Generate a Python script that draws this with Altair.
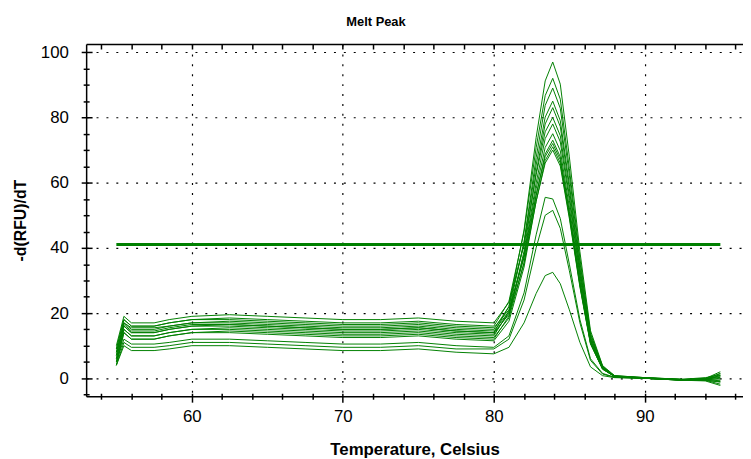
import altair as alt
import pandas as pd

# Temperature grid (°C) shared by all melt curves
temps = [55.0, 55.5, 56.0, 57.5, 58.5, 60.0, 62.5, 65.0, 67.5, 70.0, 72.5, 75.0, 77.5, 80.0,
         81.0, 82.0, 82.8, 83.4, 83.9, 84.4, 85.0, 85.7, 86.4, 87.2, 88.0, 90.0, 92.5, 94.0, 95.0]

# -d(RFU)/dT values, one list per well
c01 = [8, 16, 14, 14, 15, 16, 16.5, 16, 15.5, 15, 15, 15.5, 14.5, 14, 22, 45.5, 73.8, 91.2, 97, 90.2, 67.9, 38.8, 14.6, 3.9, 0.8, 0.2, -0.4, -0.2, 0.8]
c02 = [9, 18, 16, 16, 17, 18, 18.5, 18, 17.5, 17, 17, 17.5, 16.5, 16, 23.6, 44.9, 70.7, 86.7, 92, 85.6, 64.4, 36.8, 13.8, 3.7, 0.6, 0.1, -0.5, -0.4, 1.5]
c03 = [6, 15, 13, 13, 14, 15, 15.5, 15, 14.5, 14, 14, 14.5, 13.5, 13, 20.6, 41.9, 67.7, 83.7, 89, 82.8, 62.3, 35.6, 13.4, 3.6, 0.7, 0.0, -0.6, -0.5, -1.2]
c04 = [7, 17, 15, 15, 16, 17, 17.5, 17, 16.5, 16, 16, 16.5, 15.5, 15, 22, 41.6, 65.4, 80.1, 85, 79, 59.5, 34, 12.8, 3.4, 0.5, 0.1, -0.4, -0.1, 2.0]
c05 = [5, 14, 12, 12, 13, 14, 14.5, 14, 13.5, 13, 13, 13.5, 12.5, 12, 19.1, 39, 63.1, 78, 83, 77.2, 58.1, 33.2, 12.5, 3.3, 0.6, 0.0, -0.6, -0.6, -1.8]
c06 = [10, 19, 17, 17, 18, 19, 19.5, 19, 18.5, 18, 18, 18.5, 17.5, 17, 23.3, 40.9, 62.4, 75.6, 80, 74.4, 56, 32, 12, 3.2, 0.8, 0.2, -0.3, 0.2, 1.0]
c07 = [6, 16, 14, 14, 15, 16, 16, 15.5, 15, 14.5, 14.5, 15, 14, 13.5, 20, 38, 59.9, 73.5, 78, 72.5, 54.6, 31.2, 11.7, 3.1, 0.5, 0.0, -0.5, -0.3, 0.3]
c08 = [8, 17, 15.5, 15.5, 16, 17, 17, 16.5, 16, 15.5, 15.5, 16, 15, 14.5, 20.5, 37.5, 58.1, 70.8, 75, 69.8, 52.5, 30, 11.3, 3.0, 0.6, 0.1, -0.4, -0.4, -0.5]
c09 = [5, 15, 13, 13, 14, 15, 15, 14.5, 14, 13.5, 13.5, 14, 13, 12.5, 18.5, 35.5, 56.1, 68.8, 73, 67.9, 51.1, 29.2, 11, 2.9, 0.5, 0.0, -0.5, -0.5, 0.9]
c10 = [9, 18, 16, 16, 17, 18, 18, 17.5, 17, 16.5, 16.5, 17, 16, 15.5, 21, 37, 56.2, 68, 72, 67, 50.4, 28.8, 10.8, 2.9, 0.7, 0.2, -0.3, 0.0, 1.4]
c11 = [4, 14, 12, 12, 13, 14, 14, 13.5, 13, 12.5, 12.5, 13, 12, 11.5, 17.5, 34.1, 54.3, 66.8, 71, 66, 49.7, 28.4, 10.7, 2.8, 0.5, 0.0, -0.6, -0.7, -1.0]
c12 = [7, 16.5, 14.5, 14.5, 15.5, 16.5, 16.5, 16, 15.5, 15, 15, 15.5, 14.5, 14, 19.6, 35.3, 54.3, 66, 70, 65.1, 49, 28, 10.5, 2.8, 0.6, 0.1, -0.4, -0.2, 0.5]
c13 = [5, 12, 10.5, 10.5, 11, 12, 12, 11.5, 11, 10.5, 10.5, 11, 10, 9.5, 13, 26.2, 44, 55.5, 55, 49, 35, 18, 6, 1.5, 0.3, 0.0, -0.5, -0.3, -0.8]
c14 = [4, 11, 9.5, 9.5, 10, 11, 11, 10.5, 10, 9.5, 9.5, 10, 9, 9, 12, 24, 40, 50, 51.5, 46, 33, 17, 5.5, 1.3, 0.3, 0.0, -0.6, -0.8, -2.2]
c15 = [4, 10, 8.5, 8.5, 9, 10, 10, 9.5, 9, 8.5, 8.5, 9, 8, 7.5, 9.5, 17, 26, 31.5, 32.5, 29, 21, 11, 3.5, 0.8, 0.2, 0.0, -0.5, -0.4, 0.0]

curves = [c01, c02, c03, c04, c05, c06, c07, c08, c09, c10, c11, c12, c13, c14, c15]

# Threshold line
thr_temps = [55, 95]
thr_values = [41, 41]

# Axis tick positions
x_major = [60, 70, 80, 90]
x_minor = [54, 56, 58, 62, 64, 66, 68, 72, 74, 76, 78, 82, 84, 86, 88, 92, 94, 96]
y_major = [0, 20, 40, 60, 80, 100]
y_minor = [-5, 5, 10, 15, 25, 30, 35, 45, 50, 55, 65, 70, 75, 85, 90, 95]

rows = []
for i, c in enumerate(curves):
    for t, v in zip(temps, c):
        rows.append({"temp": t, "value": v, "well": f"w{i+1}"})
df = pd.DataFrame(rows)
thr = pd.DataFrame({"temp": thr_temps, "value": thr_values})

FONT = "Liberation Sans"
GREEN = "#008000"
XDOM = [53, 96.5]
YDOM = [-5.5, 102.5]

def xs():
    return alt.Scale(domain=XDOM, nice=False, zero=False)

def ys():
    return alt.Scale(domain=YDOM, nice=False, zero=False)

tick_common = dict(tickColor="#000", tickWidth=1.5, labels=False, domain=False, grid=False, title="")

# Layer A: melt curves with main axes
lines = alt.Chart(df).mark_line(color=GREEN, strokeWidth=1, clip=True).encode(
    x=alt.X("temp:Q", scale=xs(), axis=alt.Axis(
        orient="bottom", values=x_major, grid=True, gridDash=[2, 8], gridColor="#000",
        gridWidth=1.2, tickSize=6, tickWidth=1.5, tickColor="#000", domainColor="#000",
        domainWidth=1.5, labelFont=FONT, labelFontSize=17, labelColor="#000", labelPadding=7,
        title="Temperature, Celsius", titleFont=FONT, titleFontSize=17, titleFontWeight="bold",
        titleColor="#000", titlePadding=17)),
    y=alt.Y("value:Q", scale=ys(), axis=alt.Axis(
        orient="left", values=y_major, grid=True, gridDash=[2, 8], gridColor="#000",
        gridWidth=1.2, tickSize=5, tickWidth=1.5, tickColor="#000", domainColor="#000",
        domainWidth=1.5, labelFont=FONT, labelFontSize=17, labelColor="#000", labelPadding=13,
        title="-d(RFU)/dT", titleFont=FONT, titleFontSize=16, titleFontWeight="bold",
        titleColor="#000", titlePadding=12)),
    detail="well:N",
)

# Layer B: threshold line + outward minor ticks
threshold = alt.Chart(thr).mark_line(color=GREEN, strokeWidth=3).encode(
    x=alt.X("temp:Q", scale=xs(), axis=alt.Axis(orient="bottom", values=x_minor, tickSize=3, **tick_common)),
    y=alt.Y("value:Q", scale=ys(), axis=alt.Axis(orient="left", values=y_minor, tickSize=3, **tick_common)),
)

# Layer C: inward ticks bottom (all) and left (major)
inC = alt.Chart(thr).mark_line(opacity=0).encode(
    x=alt.X("temp:Q", scale=xs(), axis=alt.Axis(orient="bottom", values=x_major + x_minor, tickSize=3, offset=-3, **tick_common)),
    y=alt.Y("value:Q", scale=ys(), axis=alt.Axis(orient="left", values=y_major, tickSize=6, offset=-6, **tick_common)),
)

# Layer D: inward ticks top (all) and left (minor)
inD = alt.Chart(thr).mark_line(opacity=0).encode(
    x=alt.X("temp:Q", scale=xs(), axis=alt.Axis(orient="top", values=x_major + x_minor, tickSize=5, offset=-5, **tick_common)),
    y=alt.Y("value:Q", scale=ys(), axis=alt.Axis(orient="left", values=y_minor, tickSize=3, offset=-3, **tick_common)),
)

# Layer E: top border line
topE = alt.Chart(thr).mark_line(opacity=0).encode(
    x=alt.X("temp:Q", scale=xs(), axis=alt.Axis(orient="top", ticks=False, labels=False, grid=False,
                                                  domain=True, domainColor="#000", domainWidth=1.5, title="")),
    y=alt.Y("value:Q", scale=ys(), axis=None),
)

chart = alt.layer(lines, threshold, inC, inD, topE).resolve_scale(
    x="independent", y="independent"
).resolve_axis(
    x="independent", y="independent"
).properties(
    width=664, height=356,
    autosize=alt.AutoSizeParams(type="none"),
    padding={"left": 79, "top": 34, "right": 0, "bottom": 61},
    title=alt.TitleParams("Melt Peak", font=FONT, fontSize=13, fontWeight="bold", color="#000",
                          anchor="middle", dx=-39, offset=4, baseline="alphabetic"),
).configure_view(strokeWidth=0)

chart.save("out.html", embed_options={"renderer": "svg", "actions": False})
